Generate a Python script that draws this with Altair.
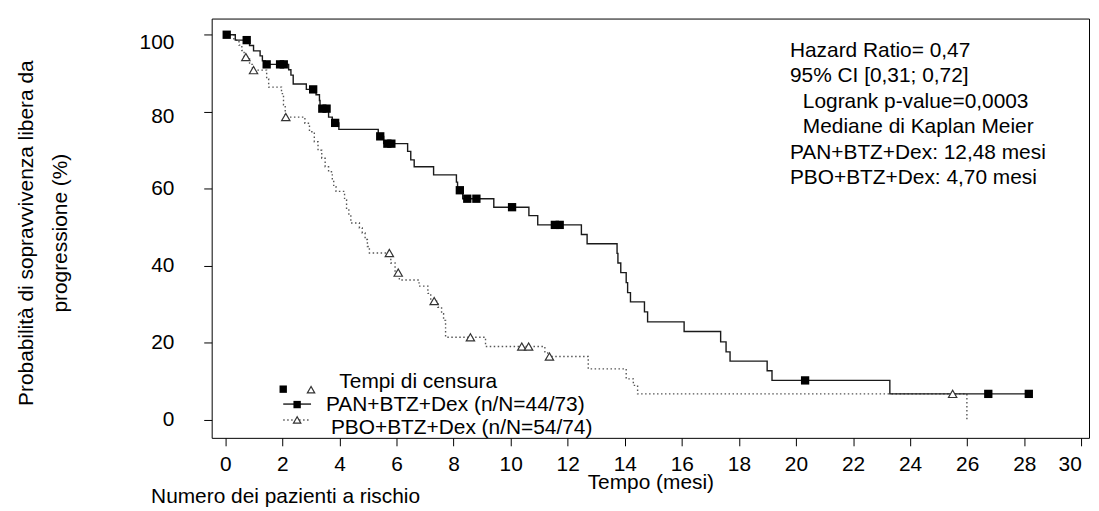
import altair as alt
import pandas as pd

# ---------------- data ----------------
pan_t = [0, 0.35, 0.85, 0.99, 1.22, 1.30, 1.40, 2.22, 2.30, 2.38, 2.84, 3.18, 3.30, 3.32,
         3.62, 3.75, 3.98, 5.36, 5.55, 6.39, 6.50, 6.62, 7.30, 8.10, 8.14, 8.32, 9.41,
         10.64, 10.95, 12.48, 12.68, 13.73, 13.76, 13.86, 14.05, 14.10, 14.20, 14.69,
         14.80, 16.08, 17.36, 17.55, 17.69, 18.99, 19.16, 23.29, 28.20]
pan_s = [100, 98.6, 97.2, 95.8, 94.5, 93.2, 92.3, 90.9, 89.5, 87.2, 85.8, 84.4, 82.9, 80.8,
         78.6, 77.1, 75.4, 73.6, 71.7, 69.7, 67.5, 65.7, 63.6, 61.7, 59.6, 57.4, 55.2,
         53.0, 50.6, 48.1, 45.7, 43.2, 40.7, 38.2, 35.6, 33.0, 30.6, 28.0,
         25.4, 22.9, 20.2, 17.6, 15.2, 12.7, 10.2, 6.7, 6.7]
pan_cens_t = [0.05, 0.75, 1.45, 1.92, 2.05, 3.08, 3.40, 3.55, 3.85, 5.43, 5.68, 5.82,
              8.22, 8.48, 8.80, 10.05, 11.55, 11.72, 20.32, 26.74, 28.16]
pan_cens_s = [100, 98.6, 92.3, 92.3, 92.3, 85.8, 80.8, 80.8, 77.1, 73.6, 71.7, 71.7,
              59.6, 57.4, 57.4, 55.2, 50.6, 50.6, 10.2, 6.7, 6.7]

pbo_t = [0, 0.30, 0.48, 0.58, 0.66, 0.85, 0.95, 1.45, 1.52, 1.97, 2.04, 2.10, 2.79, 2.95,
         3.12, 3.25, 3.38, 3.50, 3.62, 3.75, 3.80, 3.88, 4.18, 4.25, 4.33, 4.40, 4.70,
         4.80, 4.90, 4.98, 5.05, 5.80, 5.95, 6.10, 6.79, 7.10, 7.20, 7.45, 7.58, 7.65,
         7.72, 9.12, 11.20, 11.30, 12.72, 14.05, 14.30, 14.45, 25.99]
pbo_s = [100, 98.6, 97.3, 95.9, 94.2, 92.3, 90.8, 88.5, 86.4, 84.7, 81.8, 78.6, 77.0, 74.8,
         72.2, 70.0, 67.9, 65.7, 64.4, 62.3, 60.5, 59.3, 57.1, 54.5, 53.2, 51.1, 49.8,
         48.5, 46.8, 45.0, 43.3, 40.7, 38.2, 36.3, 34.7, 32.8, 30.8, 29.2, 27.5, 25.8,
         21.4, 19.0, 17.6, 16.4, 13.2, 10.6, 8.9, 6.7, 0.0]
pbo_cens_t = [0.72, 0.99, 2.12, 5.75, 6.06, 7.32, 8.59, 10.39, 10.63, 11.36, 25.49]
pbo_cens_s = [94.2, 90.8, 78.6, 43.3, 38.2, 30.8, 21.4, 19.0, 19.0, 16.4, 6.7]

x_ticks = list(range(0, 31, 2))
y_ticks = [0, 20, 40, 60, 80, 100]

annot_lines = ["Hazard Ratio= 0,47", "95% CI [0,31; 0,72]", "Logrank p-value=0,0003",
               "Mediane di Kaplan Meier", "PAN+BTZ+Dex: 12,48 mesi", "PBO+BTZ+Dex: 4,70 mesi"]
legend_title = "Tempi di censura"
legend_pan = "PAN+BTZ+Dex (n/N=44/73)"
legend_pbo = "PBO+BTZ+Dex (n/N=54/74)"
y_title = ["Probabilità di sopravvivenza libera da", "progressione (%)"]
x_title = "Tempo (mesi)"
risk_title = "Numero dei pazienti a rischio"

# ---------------- chart ----------------
FONT = "Liberation Sans"
FS = 21
W, H = 883, 422
xs = alt.Scale(domain=[-0.477, 30.27], nice=False, zero=False)
ys = alt.Scale(domain=[-4.72, 104.2], nice=False, zero=False)

pan_df = pd.DataFrame({"t": pan_t, "s": pan_s})
pbo_df = pd.DataFrame({"t": pbo_t, "s": pbo_s})
pan_c = pd.DataFrame({"t": pan_cens_t, "s": pan_cens_s})
pbo_c = pd.DataFrame({"t": pbo_cens_t, "s": pbo_cens_s})

xaxis = alt.Axis(values=x_ticks, title=None, domain=False, grid=False, tickSize=8,
                 tickColor="black", tickWidth=1, labelFont=FONT, labelFontSize=FS,
                 labelColor="black", labelPadding=8, labelFlush=10, labelOverlap=False,
                 format="d")
yaxis = alt.Axis(values=y_ticks, title=None, domain=False, grid=False, tickSize=8,
                 tickColor="black", tickWidth=1, labelFont=FONT, labelFontSize=FS,
                 labelColor="black", labelPadding=30, labelOverlap=False, format="d",
                 labelOffset={"condition": [{"test": "datum.value == 100", "value": 8},
                                            {"test": "datum.value == 80", "value": 5}],
                              "value": 0})

X = alt.X("t:Q", scale=xs, axis=xaxis)
Y = alt.Y("s:Q", scale=ys, axis=yaxis)

pbo_line = alt.Chart(pbo_df).mark_line(interpolate="step-after", color="#555555",
                                       strokeWidth=1.4, strokeDash=[1.5, 2.5]).encode(x=X, y=Y)
pan_line = alt.Chart(pan_df).mark_line(interpolate="step-after", color="#1a1a1a",
                                       strokeWidth=1.4).encode(x=X, y=Y)
pan_pts = alt.Chart(pan_c).mark_point(shape="square", filled=True, color="black",
                                      size=70, opacity=1).encode(x=X, y=Y)
pbo_pts = alt.Chart(pbo_c).mark_point(shape="triangle-up", filled=False, fill="white",
                                      stroke="#333333", strokeWidth=1.2, size=70,
                                      opacity=1).encode(x=X, y=Y)

one = pd.DataFrame({"a": [0]})


def txt(s, x, y, align="left", angle=0, size=FS):
    kw = dict(align=align, baseline="alphabetic", font=FONT, fontSize=size, color="black")
    if angle:
        kw["angle"] = angle
    return alt.Chart(one).mark_text(**kw).encode(x=alt.value(x), y=alt.value(y),
                                                 text=alt.value(s))


layers = [pbo_line, pan_line, pbo_pts, pan_pts]

# annotation block (top right)
ann_x = [582, 582, 595, 595, 582, 582]
ann_y = [38.5, 64.1, 89.7, 115.3, 140.9, 166.5]
for s, ax, ay in zip(annot_lines, ann_x, ann_y):
    layers.append(txt(s, ax, ay))

# legend (bottom left, inside plot)
layers.append(alt.Chart(one).mark_point(shape="square", filled=True, color="black", size=55,
                                        opacity=1).encode(x=alt.value(72), y=alt.value(373)))
layers.append(alt.Chart(one).mark_point(shape="triangle-up", filled=False, fill="white",
                                        stroke="#333333", strokeWidth=1.2, size=55,
                                        opacity=1).encode(x=alt.value(100), y=alt.value(373.5)))
layers.append(txt(legend_title, 128.5, 372))
layers.append(alt.Chart(one).mark_rule(color="#1a1a1a", strokeWidth=1.4).encode(
    x=alt.value(72), x2=alt.value(100), y=alt.value(388)))
layers.append(alt.Chart(one).mark_point(shape="square", filled=True, color="black", size=55,
                                        opacity=1).encode(x=alt.value(86), y=alt.value(388.5)))
layers.append(txt(legend_pan, 115, 395))
layers.append(alt.Chart(one).mark_rule(color="#555555", strokeWidth=1.4,
                                       strokeDash=[1.5, 2.5]).encode(
    x=alt.value(72), x2=alt.value(100), y=alt.value(404)))
layers.append(alt.Chart(one).mark_point(shape="triangle-up", filled=False, fill="white",
                                        stroke="#333333", strokeWidth=1.2, size=55,
                                        opacity=1).encode(x=alt.value(86), y=alt.value(404)))
layers.append(txt(legend_pbo, 120, 418.5))

# axis titles
layers.append(txt(y_title[0], -180, 216, align="center", angle=270))
layers.append(txt(y_title[1], -146, 216, align="center", angle=270))
layers.append(txt(x_title, 442, 473, align="center"))
layers.append(txt(risk_title, -61, 488))

chart = alt.layer(*layers).properties(
    width=W, height=H, autosize="none",
    padding={"left": 205, "top": 9, "right": 2, "bottom": 72},
).configure_view(stroke="black", strokeWidth=1)

chart.save("out.html", embed_options={"renderer": "svg", "actions": False})
